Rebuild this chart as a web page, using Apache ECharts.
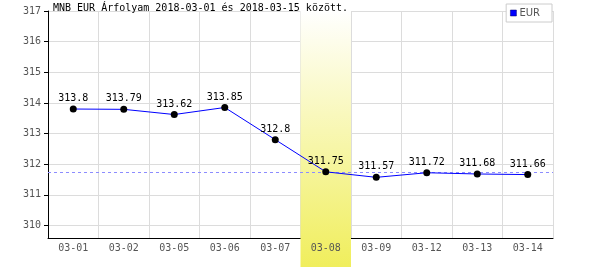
<!DOCTYPE html>
<html>
<head>
<meta charset="utf-8">
<script src="https://cdn.jsdelivr.net/npm/echarts@6/dist/echarts.min.js"></script>
<style>html,body{margin:0;padding:0;background:#fff}#c{width:600px;height:270px}</style>
</head>
<body>
<div id="c"></div>
<script>
var titleText = 'MNB EUR Árfolyam 2018-03-01 és 2018-03-15 között.';
var seriesName = 'EUR';
var categories = ['03-01','03-02','03-05','03-06','03-07','03-08','03-09','03-12','03-13','03-14'];
var values = [313.8, 313.79, 313.62, 313.85, 312.8, 311.75, 311.57, 311.72, 311.68, 311.66];
var highlightDay = '03-08';
var yTickMin = 310, yTickMax = 317, yTickStep = 1;
var yAxisBottom = 309.58;

var hiIdx = categories.indexOf(highlightDay);
var bandData = categories.map(function (c, i) { return i === hiIdx ? 1 : '-'; });
var refValue = values[hiIdx];

var mono = 'DejaVu Sans Mono';
var chart = echarts.init(document.getElementById('c'), null, {renderer: 'canvas'});
chart.setOption({
  animation: false,
  backgroundColor: '#fff',
  title: {
    text: titleText, left: 53, top: 3, padding: 0,
    textStyle: {fontFamily: mono, fontSize: 10, fontWeight: 'normal', color: '#000'}
  },
  legend: {
    right: 48, top: 4, padding: [4, 12, 4, 4],
    borderColor: '#ccc', borderWidth: 1, backgroundColor: '#fff',
    icon: 'rect', itemWidth: 6, itemHeight: 6, itemGap: 3,
    textStyle: {fontFamily: 'DejaVu Sans', fontSize: 10, color: '#555', padding: [0,0,0,-2]},
    data: [{name: seriesName, itemStyle: {color: '#0000ff', borderColor: '#000066', borderWidth: 0.5}}]
  },
  grid: [
    {left: 48, right: 47, top: 10, bottom: 3},
    {left: 48, right: 47, top: 11, bottom: 44.5},
    {left: 48, right: 47, top: 11, bottom: 31.7}
  ],
  xAxis: [
    {gridIndex: 0, type: 'category', data: categories, show: false, boundaryGap: true},
    {gridIndex: 1, type: 'category', data: categories, show: false, boundaryGap: true},
    {gridIndex: 2, type: 'category', data: categories, boundaryGap: true,
      axisLine: {lineStyle: {color: '#000', width: 1}},
      axisTick: {show: false},
      axisLabel: {fontFamily: mono, fontSize: 10, color: '#555', margin: 5, interval: 0},
      splitLine: {show: true, interval: 0, lineStyle: {color: '#dcdcdc', width: 1}}
    }
  ],
  yAxis: [
    {gridIndex: 0, type: 'value', min: 0, max: 1, show: false},
    {gridIndex: 1, type: 'value', min: yTickMin, max: yTickMax, interval: yTickStep,
      axisLine: {show: false},
      axisTick: {show: true, length: 4, lineStyle: {color: '#000'}},
      axisLabel: {fontFamily: mono, fontSize: 10, color: '#555', margin: 7},
      splitLine: {show: true, lineStyle: {color: '#dcdcdc', width: 1}}
    },
    {gridIndex: 2, type: 'value', min: yAxisBottom, max: yTickMax,
      axisLine: {show: true, lineStyle: {color: '#000', width: 1}},
      axisTick: {show: false}, axisLabel: {show: false}, splitLine: {show: false}
    }
  ],
  series: [
    {
      type: 'bar', xAxisIndex: 0, yAxisIndex: 0, data: bandData, barWidth: '100%',
      silent: true, z: 0,
      itemStyle: {color: new echarts.graphic.LinearGradient(0, 0, 0, 1, [
        {offset: 0, color: '#ffffff'},
        {offset: 1, color: '#f0ee5c'}
      ])}
    },
    {
      name: seriesName, type: 'line', xAxisIndex: 2, yAxisIndex: 2, data: values,
      z: 5,
      lineStyle: {color: '#0000ff', width: 1},
      symbol: 'circle', symbolSize: 7,
      itemStyle: {color: '#000'},
      label: {show: true, position: 'top', distance: 2, fontFamily: mono, fontSize: 10, color: '#000'},
      markLine: {
        silent: true, symbol: 'none', label: {show: false},
        lineStyle: {color: '#8c8cff', type: [3, 3], width: 1},
        data: [{yAxis: refValue}]
      }
    }
  ]
});
</script>
</body>
</html>
